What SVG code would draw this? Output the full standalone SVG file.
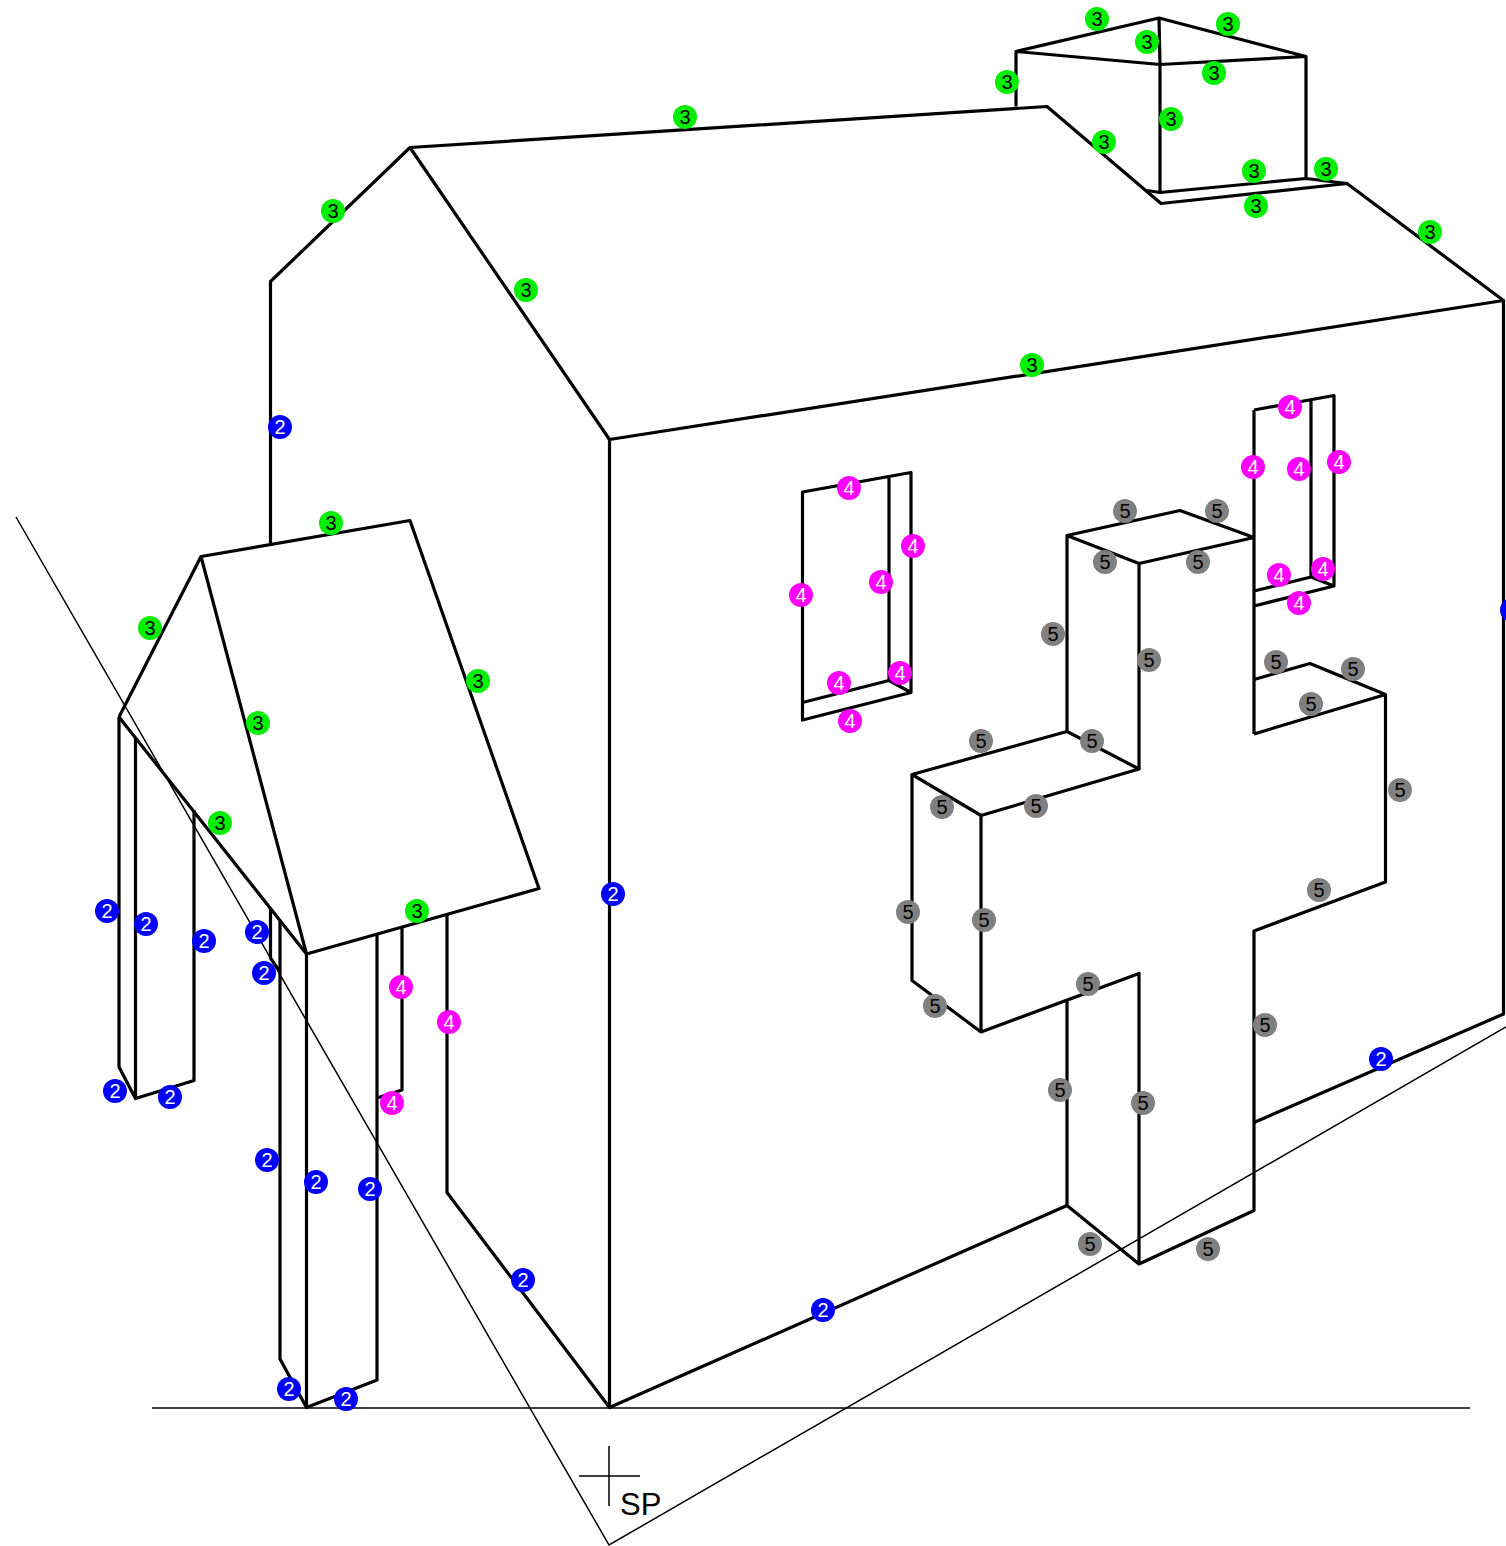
<svg xmlns="http://www.w3.org/2000/svg" width="1506" height="1546" viewBox="0 0 1506 1546">
<style>
.e{fill:none;stroke:#000;stroke-width:3.2;stroke-linejoin:round;stroke-linecap:butt}
.t{fill:none;stroke:#000;stroke-width:1.5}
text{font-family:"Liberation Sans",Arial,sans-serif}
.b text{font-size:20px;text-anchor:middle}
.b2 circle{fill:#0000ff}.b2 text{fill:#fff}
.b3 circle{fill:#00ee00}.b3 text{fill:#000}
.b4 circle{fill:#ff00ff}.b4 text{fill:#fff}
.b5 circle{fill:#808080}.b5 text{fill:#000}
</style>
<rect width="1506" height="1546" fill="#fff"/>
<g id="connectors">
<g id="construction">
<path class="t" d="M152 1408H1470"/>
<path class="t" d="M16 517L609 1545L1506 1027"/>
<path class="t" d="M609 1446V1506M579 1476H640"/>
</g>
<g id="house">
<path class="e" d="M270.500 545V281.500L410 147.500L1047 106.500L1161 203.500L1347 183.500L1503.500 300.500V1014L1254 1122.500"/>
<path class="e" d="M410 147.500L609.500 439.500L1503.500 300.500M609.500 439.500V1407.500"/>
<path class="e" d="M447 914V1192.500L609.500 1407.500L1067 1205.500"/>
</g>
<g id="dormer">
<path class="e" d="M1016 106.500V51.500L1159 18L1306 56.500V178.500M1016 51.500L1160 64.500L1306 56.500M1159 18L1160 64.500V192.500M1147 190.500L1160 192.500L1306 178.500L1347 183.500"/>
</g>
<g id="porch">
<path class="e" d="M119 717L201 556.500L410 520.500L539 888.500L306.500 954L119 717M201 556.500L306.500 954"/>
<path class="e" d="M119 717V1067L135.500 1098.500L194 1080.500V810M135.500 738V1098.500"/>
<path class="e" d="M270.500 908V958L280 972M280 921V1359L306.500 1407.500L377 1380V934M306.500 954V1407.500"/>
<path class="e" d="M402 927V1090L377 1098"/>
</g>
<g id="window-left">
<path class="e" d="M802.500 492L911 472.500V692.500L802.500 720ZM889 476V680.500L802.500 702.500M889 680.500L911 692.500"/>
</g>
<g id="window-right">
<path class="e" d="M1254 410L1334 395.500V586L1254 606M1311 400V577L1254 591M1311 577L1334 586M1254 410V734"/>
</g>
<g id="cross">
<path class="e" d="M1254 537.500L1180 510.500L1067 535.500L1139 563.500L1254 537.500M1067 535.500V731.500M1139 563.500V769"/>
<path class="e" d="M1067 731.500L912 774.500L981 815.500L1139 769L1067 731.500M912 774.500V980.500L981 1032L1139 973.500V1264L1067 1205.500V1000M981 815.500V1032"/>
<path class="e" d="M1139 1264L1254 1210.500V931L1385.500 882V694.500L1254 734M1254 679.500L1310 663.500L1385.500 694.500"/>
</g>
</g>
<text id="sp" x="620" y="1515" font-size="31" fill="#000">SP</text>
<g id="badges-3" class="b b3">
<g id="g3-1"><circle cx="1097" cy="19" r="12"/><text x="1097" y="26">3</text></g>
<g id="g3-2"><circle cx="1228" cy="24" r="12"/><text x="1228" y="31">3</text></g>
<g id="g3-3"><circle cx="1147" cy="42" r="12"/><text x="1147" y="49">3</text></g>
<g id="g3-4"><circle cx="1214" cy="73" r="12"/><text x="1214" y="80">3</text></g>
<g id="g3-5"><circle cx="1007" cy="82" r="12"/><text x="1007" y="89">3</text></g>
<g id="g3-6"><circle cx="1171" cy="119" r="12"/><text x="1171" y="126">3</text></g>
<g id="g3-7"><circle cx="1104" cy="142" r="12"/><text x="1104" y="149">3</text></g>
<g id="g3-8"><circle cx="1254" cy="171" r="12"/><text x="1254" y="178">3</text></g>
<g id="g3-9"><circle cx="1326" cy="169" r="12"/><text x="1326" y="176">3</text></g>
<g id="g3-10"><circle cx="1256" cy="206" r="12"/><text x="1256" y="213">3</text></g>
<g id="g3-11"><circle cx="1430" cy="232" r="12"/><text x="1430" y="239">3</text></g>
<g id="g3-12"><circle cx="685" cy="117" r="12"/><text x="685" y="124">3</text></g>
<g id="g3-13"><circle cx="333" cy="211" r="12"/><text x="333" y="218">3</text></g>
<g id="g3-14"><circle cx="526" cy="290" r="12"/><text x="526" y="297">3</text></g>
<g id="g3-15"><circle cx="1032" cy="365" r="12"/><text x="1032" y="372">3</text></g>
<g id="g3-16"><circle cx="331" cy="523" r="12"/><text x="331" y="530">3</text></g>
<g id="g3-17"><circle cx="150" cy="628" r="12"/><text x="150" y="635">3</text></g>
<g id="g3-18"><circle cx="478" cy="681" r="12"/><text x="478" y="688">3</text></g>
<g id="g3-19"><circle cx="258" cy="723" r="12"/><text x="258" y="730">3</text></g>
<g id="g3-20"><circle cx="220" cy="823" r="12"/><text x="220" y="830">3</text></g>
<g id="g3-21"><circle cx="417" cy="911" r="12"/><text x="417" y="918">3</text></g>
</g>
<g id="badges-2" class="b b2">
<g id="g2-1"><circle cx="280" cy="427" r="12"/><text x="280" y="434">2</text></g>
<g id="g2-2"><circle cx="613" cy="894" r="12"/><text x="613" y="901">2</text></g>
<g id="g2-3"><circle cx="1512" cy="610" r="12"/><text x="1512" y="617">2</text></g>
<g id="g2-4"><circle cx="107" cy="911" r="12"/><text x="107" y="918">2</text></g>
<g id="g2-5"><circle cx="146" cy="924" r="12"/><text x="146" y="931">2</text></g>
<g id="g2-6"><circle cx="204" cy="941" r="12"/><text x="204" y="948">2</text></g>
<g id="g2-7"><circle cx="257" cy="932" r="12"/><text x="257" y="939">2</text></g>
<g id="g2-8"><circle cx="264" cy="973" r="12"/><text x="264" y="980">2</text></g>
<g id="g2-9"><circle cx="115" cy="1091" r="12"/><text x="115" y="1098">2</text></g>
<g id="g2-10"><circle cx="170" cy="1097" r="12"/><text x="170" y="1104">2</text></g>
<g id="g2-11"><circle cx="267" cy="1160" r="12"/><text x="267" y="1167">2</text></g>
<g id="g2-12"><circle cx="316" cy="1182" r="12"/><text x="316" y="1189">2</text></g>
<g id="g2-13"><circle cx="370" cy="1189" r="12"/><text x="370" y="1196">2</text></g>
<g id="g2-14"><circle cx="289" cy="1389" r="12"/><text x="289" y="1396">2</text></g>
<g id="g2-15"><circle cx="346" cy="1399" r="12"/><text x="346" y="1406">2</text></g>
<g id="g2-16"><circle cx="523" cy="1280" r="12"/><text x="523" y="1287">2</text></g>
<g id="g2-17"><circle cx="823" cy="1310" r="12"/><text x="823" y="1317">2</text></g>
<g id="g2-18"><circle cx="1381" cy="1059" r="12"/><text x="1381" y="1066">2</text></g>
</g>
<g id="badges-4" class="b b4">
<g id="g4-1"><circle cx="849" cy="488" r="12"/><text x="849" y="495">4</text></g>
<g id="g4-2"><circle cx="913" cy="546" r="12"/><text x="913" y="553">4</text></g>
<g id="g4-3"><circle cx="881" cy="582" r="12"/><text x="881" y="589">4</text></g>
<g id="g4-4"><circle cx="801" cy="595" r="12"/><text x="801" y="602">4</text></g>
<g id="g4-5"><circle cx="839" cy="683" r="12"/><text x="839" y="690">4</text></g>
<g id="g4-6"><circle cx="900" cy="673" r="12"/><text x="900" y="680">4</text></g>
<g id="g4-7"><circle cx="850" cy="721" r="12"/><text x="850" y="728">4</text></g>
<g id="g4-8"><circle cx="1290" cy="407" r="12"/><text x="1290" y="414">4</text></g>
<g id="g4-9"><circle cx="1253" cy="467" r="12"/><text x="1253" y="474">4</text></g>
<g id="g4-10"><circle cx="1299" cy="469" r="12"/><text x="1299" y="476">4</text></g>
<g id="g4-11"><circle cx="1339" cy="462" r="12"/><text x="1339" y="469">4</text></g>
<g id="g4-12"><circle cx="1279" cy="575" r="12"/><text x="1279" y="582">4</text></g>
<g id="g4-13"><circle cx="1323" cy="569" r="12"/><text x="1323" y="576">4</text></g>
<g id="g4-14"><circle cx="1299" cy="603" r="12"/><text x="1299" y="610">4</text></g>
<g id="g4-15"><circle cx="401" cy="987" r="12"/><text x="401" y="994">4</text></g>
<g id="g4-16"><circle cx="449" cy="1022" r="12"/><text x="449" y="1029">4</text></g>
<g id="g4-17"><circle cx="392" cy="1103" r="12"/><text x="392" y="1110">4</text></g>
</g>
<g id="badges-5" class="b b5">
<g id="g5-1"><circle cx="1125" cy="511" r="12"/><text x="1125" y="518">5</text></g>
<g id="g5-2"><circle cx="1217" cy="511" r="12"/><text x="1217" y="518">5</text></g>
<g id="g5-3"><circle cx="1105" cy="562" r="12"/><text x="1105" y="569">5</text></g>
<g id="g5-4"><circle cx="1198" cy="562" r="12"/><text x="1198" y="569">5</text></g>
<g id="g5-5"><circle cx="1053" cy="634" r="12"/><text x="1053" y="641">5</text></g>
<g id="g5-6"><circle cx="1149" cy="660" r="12"/><text x="1149" y="667">5</text></g>
<g id="g5-7"><circle cx="1276" cy="662" r="12"/><text x="1276" y="669">5</text></g>
<g id="g5-8"><circle cx="1353" cy="669" r="12"/><text x="1353" y="676">5</text></g>
<g id="g5-9"><circle cx="1311" cy="704" r="12"/><text x="1311" y="711">5</text></g>
<g id="g5-10"><circle cx="1400" cy="790" r="12"/><text x="1400" y="797">5</text></g>
<g id="g5-11"><circle cx="981" cy="741" r="12"/><text x="981" y="748">5</text></g>
<g id="g5-12"><circle cx="1092" cy="741" r="12"/><text x="1092" y="748">5</text></g>
<g id="g5-13"><circle cx="942" cy="807" r="12"/><text x="942" y="814">5</text></g>
<g id="g5-14"><circle cx="1036" cy="806" r="12"/><text x="1036" y="813">5</text></g>
<g id="g5-15"><circle cx="1319" cy="890" r="12"/><text x="1319" y="897">5</text></g>
<g id="g5-16"><circle cx="908" cy="912" r="12"/><text x="908" y="919">5</text></g>
<g id="g5-17"><circle cx="984" cy="920" r="12"/><text x="984" y="927">5</text></g>
<g id="g5-18"><circle cx="1088" cy="984" r="12"/><text x="1088" y="991">5</text></g>
<g id="g5-19"><circle cx="935" cy="1006" r="12"/><text x="935" y="1013">5</text></g>
<g id="g5-20"><circle cx="1265" cy="1025" r="12"/><text x="1265" y="1032">5</text></g>
<g id="g5-21"><circle cx="1060" cy="1090" r="12"/><text x="1060" y="1097">5</text></g>
<g id="g5-22"><circle cx="1143" cy="1103" r="12"/><text x="1143" y="1110">5</text></g>
<g id="g5-23"><circle cx="1090" cy="1244" r="12"/><text x="1090" y="1251">5</text></g>
<g id="g5-24"><circle cx="1208" cy="1249" r="12"/><text x="1208" y="1256">5</text></g>
</g>
</svg>
